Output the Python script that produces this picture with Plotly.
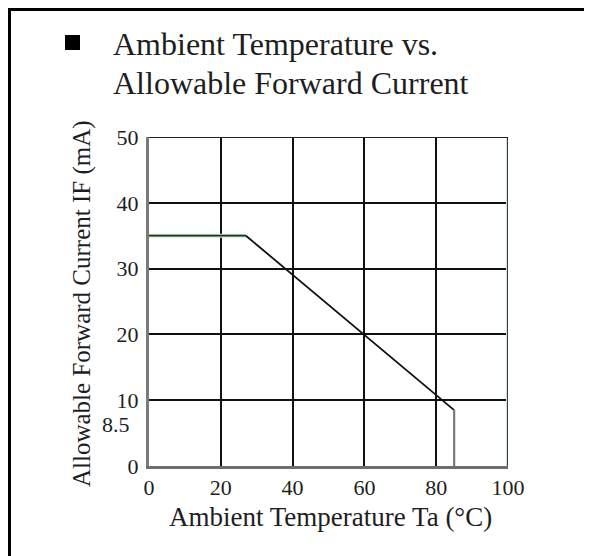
import plotly.graph_objects as go

# Data
temp_c = [0, 27, 85, 85]
current_ma = [35, 35, 8.5, 0]
x_ticks = [0, 20, 40, 60, 80, 100]
y_ticks = [0, 10, 20, 30, 40, 50]
extra_y_label = 8.5
title_lines = ["Ambient Temperature vs.", "Allowable Forward Current"]
x_title = "Ambient Temperature Ta (°C)"
y_title = "Allowable Forward Current IF (mA)"

# page is offset by the 8px body margin; figure fills the rest of the window
OFF = 8
W, H = 584, 548
FONT = "Liberation Serif, Times New Roman, serif"
TXT = "#1e1e1e"

def px(x):
    return (x - OFF) / W

def py(y):
    return (H - (y - OFF)) / H

fig = go.Figure()

# horizontal segment (green-tinted)
fig.add_trace(go.Scatter(x=temp_c[0:2], y=current_ma[0:2], mode="lines",
                         line=dict(color="#cfe8cf", width=4), hoverinfo="skip"))
fig.add_trace(go.Scatter(x=temp_c[0:2], y=current_ma[0:2], mode="lines",
                         line=dict(color="#1e2e1e", width=1.8), hoverinfo="skip"))
# diagonal derating segment
fig.add_trace(go.Scatter(x=temp_c[1:3], y=current_ma[1:3], mode="lines",
                         line=dict(color="#111111", width=1.8), hoverinfo="skip"))
# vertical cut-off
fig.add_trace(go.Scatter(x=temp_c[2:4], y=current_ma[2:4], mode="lines",
                         line=dict(color="#7a7a7a", width=2.2), hoverinfo="skip"))

x0, x1 = px(149), px(508)
y0, y1 = py(466), py(137)

fig.update_layout(
    width=W, height=H,
    margin=dict(l=0, r=0, t=0, b=0),
    paper_bgcolor="white", plot_bgcolor="white",
    showlegend=False,
    font=dict(family=FONT, color=TXT),
    xaxis=dict(domain=[x0, x1], range=[0, 100], tickvals=x_ticks,
               showgrid=True, gridcolor="#111111", gridwidth=1.5,
               zeroline=False, showline=True, linecolor="#6e6e6e", linewidth=2.5,
               ticks="", tickfont=dict(size=22, family=FONT, color=TXT),
               automargin=False, fixedrange=True),
    yaxis=dict(domain=[y0, y1], range=[0, 50], tickvals=y_ticks,
               showgrid=True, gridcolor="#111111", gridwidth=1.5,
               zeroline=False, showline=True, linecolor="#7a7a7a", linewidth=3,
               ticks="", tickfont=dict(size=22, family=FONT, color=TXT),
               ticklabelstandoff=3,
               automargin=False, fixedrange=True),
)

shapes = []
# right border (green halo + black)
shapes.append(dict(type="line", xref="x", yref="y", x0=100, x1=100, y0=0, y1=50,
                   line=dict(color="#cfe8cf", width=4), layer="above"))
shapes.append(dict(type="line", xref="x", yref="y", x0=100, x1=100, y0=0, y1=50,
                   line=dict(color="#111111", width=1.6), layer="above"))
# top border
shapes.append(dict(type="line", xref="x", yref="y", x0=0, x1=100, y0=50, y1=50,
                   line=dict(color="#222222", width=1.8), layer="above"))
# outer frame (top and left)
shapes.append(dict(type="line", xref="paper", yref="paper", x0=px(8), x1=1.0,
                   y0=py(9.5), y1=py(9.5), line=dict(color="#000000", width=3)))
shapes.append(dict(type="line", xref="paper", yref="paper", x0=px(9.5), x1=px(9.5),
                   y0=py(8), y1=0, line=dict(color="#000000", width=3)))
# bullet square
shapes.append(dict(type="rect", xref="paper", yref="paper", x0=px(65), x1=px(80),
                   y0=py(50), y1=py(35), fillcolor="#000000", line=dict(width=0)))
fig.update_layout(shapes=shapes)

ann = []
ann.append(dict(xref="paper", yref="paper", x=px(111), y=py(44), xanchor="left", yanchor="middle",
                text=title_lines[0], showarrow=False, font=dict(size=32, family=FONT, color=TXT)))
ann.append(dict(xref="paper", yref="paper", x=px(111), y=py(83), xanchor="left", yanchor="middle",
                text=title_lines[1], showarrow=False, font=dict(size=32, family=FONT, color=TXT)))
ann.append(dict(xref="paper", yref="paper", x=px(330), y=py(517), xanchor="center", yanchor="middle",
                text=x_title, showarrow=False, font=dict(size=27, family=FONT, color=TXT)))
ann.append(dict(xref="paper", yref="paper", x=px(82), y=py(304), xanchor="center", yanchor="middle",
                text=y_title, textangle=-90, showarrow=False, font=dict(size=25, family=FONT, color=TXT)))
ann.append(dict(xref="paper", yref="y", x=px(132), y=extra_y_label, yshift=-14, xanchor="right", yanchor="middle",
                text=str(extra_y_label), showarrow=False, font=dict(size=22, family=FONT, color=TXT)))
fig.update_layout(annotations=ann)

fig.write_html("out.html")
